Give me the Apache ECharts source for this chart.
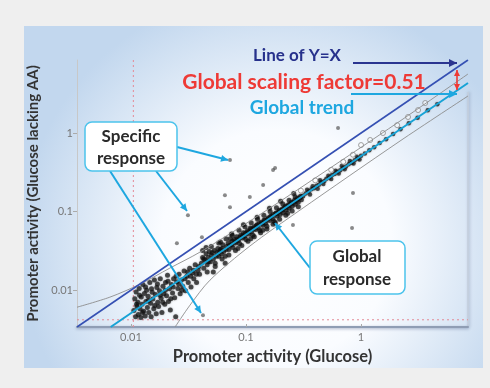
<!DOCTYPE html>
<html>
<head>
<meta charset="utf-8">
<script src="https://cdn.jsdelivr.net/npm/echarts@6/dist/echarts.min.js"></script>
<style>html,body{margin:0;padding:0;background:#efefef}#c{width:490px;height:388px}</style>
</head>
<body>
<div id="c"></div>
<script>
// ---- data ----
const axisMin = 0.0034, axisMax = 8.5;
const tickValues = [0.01, 0.1, 1];
const tickLabels = ['0.01', '0.1', '1'];

const lowCloud = [
[0.0106,0.0055],[0.0108,0.0078],[0.0110,0.0046],[0.0111,0.0095],[0.0113,0.0062],[0.0115,0.0070],
[0.0116,0.0049],[0.0118,0.0105],[0.0120,0.0058],[0.0122,0.0045],[0.0123,0.0082],[0.0125,0.0066],
[0.0127,0.0118],[0.0129,0.0054],[0.0131,0.0091],[0.0133,0.0047],[0.0135,0.0072],[0.0137,0.0100],
[0.0139,0.0060],[0.0141,0.0084],[0.0143,0.0052],[0.0146,0.0125],[0.0148,0.0068],[0.0150,0.0046],
[0.0153,0.0094],[0.0155,0.0077],[0.0158,0.0058],[0.0160,0.0135],[0.0163,0.0088],[0.0166,0.0050],
[0.0168,0.0108],[0.0171,0.0070],[0.0174,0.0062],[0.0177,0.0098],[0.0180,0.0140],[0.0183,0.0079],
[0.0186,0.0052],[0.0190,0.0112],[0.0193,0.0090],[0.0197,0.0066],[0.0200,0.0125],[0.0204,0.0085],
[0.0208,0.0155],[0.0212,0.0072],[0.0216,0.0104],[0.0220,0.0056],[0.0225,0.0118],[0.0230,0.0092],
[0.0235,0.0140],[0.0240,0.0080],[0.0245,0.0046],[0.0250,0.0128],[0.0256,0.0105],[0.0262,0.0160],
[0.0268,0.0090],[0.0275,0.0135],[0.0282,0.0112],[0.0290,0.0175],[0.0298,0.0098],[0.0306,0.0150],
[0.0315,0.0125],[0.0324,0.0190],[0.0333,0.0110],[0.0342,0.0165],[0.0352,0.0140],[0.0362,0.0210],
[0.0372,0.0125],[0.0383,0.0180],[0.0395,0.0160],
[0.0112,0.0066],[0.0119,0.0086],[0.0126,0.0052],[0.0134,0.0110],[0.0142,0.0074],[0.0151,0.0104],
[0.0161,0.0064],[0.0170,0.0120],[0.0179,0.0086],[0.0189,0.0070],[0.0199,0.0100],[0.0210,0.0130],
[0.0222,0.0078],[0.0233,0.0110],[0.0247,0.0150],[0.0260,0.0120],[0.0277,0.0100],[0.0295,0.0140],
[0.0312,0.0170],[0.0330,0.0150],[0.0350,0.0180],[0.0370,0.0160],[0.0390,0.0200]
];
const midBand = [
[0.041,0.022],[0.042,0.026],[0.043,0.019],[0.044,0.024],[0.045,0.029],[0.046,0.021],[0.047,0.026],
[0.048,0.031],[0.049,0.023],[0.050,0.028],[0.052,0.025],[0.053,0.032],[0.054,0.022],[0.056,0.030],
[0.057,0.034],[0.058,0.027],[0.060,0.033],[0.061,0.029],[0.063,0.038],[0.064,0.031],[0.066,0.027],
[0.068,0.036],[0.070,0.040],[0.071,0.033],[0.073,0.045],[0.075,0.038],[0.077,0.035],[0.079,0.044],
[0.081,0.040],[0.083,0.048],[0.086,0.043],[0.088,0.039],[0.090,0.050],[0.093,0.046],[0.095,0.054],
[0.098,0.049],[0.100,0.044],[0.103,0.057],[0.106,0.052],[0.109,0.062],[0.112,0.056],[0.115,0.050],
[0.118,0.064],[0.121,0.059],[0.125,0.068],[0.128,0.062],[0.132,0.057],[0.136,0.073],[0.140,0.067],
[0.144,0.078],[0.148,0.071],[0.152,0.065],[0.156,0.083],[0.161,0.077],[0.166,0.088],[0.171,0.081],
[0.176,0.075],[0.181,0.094],[0.186,0.088],[0.192,0.099],[0.198,0.092],[0.204,0.104],[0.210,0.097],
[0.216,0.112],[0.223,0.105],[0.230,0.118],[0.237,0.110],[0.244,0.125],[0.252,0.117],[0.260,0.132],
[0.268,0.124],[0.276,0.140],[0.285,0.133],[0.294,0.150],[0.303,0.142],[0.312,0.158],
[0.045,0.035],[0.052,0.017],[0.060,0.041],[0.066,0.022],[0.075,0.052],[0.085,0.034],[0.095,0.068],
[0.110,0.045],[0.125,0.085],[0.140,0.058],[0.160,0.110],[0.180,0.072],[0.200,0.135],[0.230,0.095],
[0.260,0.170],
[0.043,0.025],[0.047,0.023],[0.051,0.030],[0.055,0.027],[0.059,0.031],[0.062,0.034],[0.067,0.033],
[0.072,0.037],[0.076,0.042],[0.080,0.041],[0.084,0.044],[0.089,0.047],[0.094,0.049],[0.099,0.053],
[0.105,0.055],[0.111,0.060],[0.117,0.061],[0.123,0.066],[0.130,0.070],[0.138,0.071],[0.146,0.077],
[0.154,0.080],[0.163,0.086],[0.173,0.092],[0.183,0.096],[0.195,0.104],[0.207,0.108],[0.220,0.117],
[0.234,0.122],[0.248,0.131],[0.264,0.140],[0.280,0.147],[0.298,0.157],
[0.042,0.032],[0.046,0.017],[0.050,0.036],[0.054,0.020],[0.058,0.040],[0.062,0.025],[0.067,0.045],
[0.071,0.028],[0.076,0.050],[0.081,0.032],[0.087,0.058],[0.092,0.037],[0.098,0.064],[0.104,0.042],
[0.111,0.072],[0.118,0.048],[0.126,0.080],[0.134,0.054],[0.143,0.090],[0.152,0.060],[0.162,0.100],
[0.172,0.069],[0.184,0.112],[0.196,0.080],[0.209,0.125],[0.222,0.090],[0.237,0.140],[0.252,0.102],
[0.268,0.155],[0.285,0.115]
];
const highBand = [
[0.33,0.170],[0.35,0.180],[0.37,0.193],[0.39,0.198],[0.41,0.214],[0.43,0.220],[0.45,0.236],
[0.48,0.245],[0.50,0.262],[0.53,0.272],[0.56,0.292],[0.59,0.300],[0.62,0.322],[0.66,0.335],
[0.70,0.362],[0.74,0.375],[0.78,0.402],[0.83,0.420],[0.88,0.452],[0.94,0.475],[1.00,0.515],
[1.08,0.548],[1.18,0.605],[1.30,0.660],[1.45,0.745],[1.65,0.835],[1.90,0.975],[2.2,1.12],
[2.6,1.33],[3.1,1.57],[3.8,1.95],[4.6,2.33],
[0.34,0.19],[0.36,0.165],[0.38,0.21],[0.42,0.195],[0.44,0.25],[0.47,0.225],[0.52,0.285],
[0.55,0.26],[0.60,0.33],[0.64,0.305],[0.68,0.38],[0.72,0.345],[0.80,0.44],[0.86,0.41],
[0.92,0.50],[0.97,0.46]
];
const outliers = [
[0.0726,0.453],[0.0313,0.0902],[0.0423,0.0048],[0.631,1.16],[0.179,0.358],[0.0656,0.162],
[0.108,0.153],[0.0726,0.114],[0.0251,0.0397],[0.256,0.0673],[0.851,0.172],[0.835,0.0617],
[0.0414,0.0473],[0.172,0.338],[0.141,0.218]
];
const openPoints = [
[2.56,1.60],[3.13,1.96],[1.0,0.703],[1.55,1.0],[1.20,0.815],[2.06,1.26],[3.61,2.41],
[0.30,0.185],[0.40,0.25],[0.55,0.34],[0.70,0.43],[0.85,0.53]
];
const lineYX = [[0.0034,0.0034],[8.5,8.5]];
const globalTrend = [[0.00667,0.0034],[8.5,4.335]];
const upperBound = [[0.0034,0.00607],[0.00656,0.00815],[0.01197,0.0119],[0.0218,0.0191],[0.0398,0.0305],[0.108,0.0757],[0.295,0.199],[2.18,1.42],[8.5,5.64]];
const lowerBound = [[0.0242,0.0034],[0.0326,0.00644],[0.0486,0.0134],[0.108,0.0364],[0.295,0.1045],[2.18,0.791],[8.5,2.96]];
const refVertical = [[0.0105,0.0034],[0.0105,8.5]];
const refHorizontal = [[0.0034,0.0042],[8.5,0.0042]];

// ---- chart ----
const chart = echarts.init(document.getElementById('c'), null, {renderer:'canvas'});
const FONT = 'Lato, "Open Sans", sans-serif';

function labelFmt(v){
  const i = tickValues.findIndex(t => Math.abs(Math.log10(v) - Math.log10(t)) < 0.01);
  return i >= 0 ? tickLabels[i] : '';
}
function arrow(x1,y1,x2,y2,color,w,head,both){
  const els = [];
  els.push({type:'line', z:100, shape:{x1,y1,x2,y2}, style:{stroke:color, lineWidth:w}});
  const mk = (ax,ay,bx,by) => {
    const dx = bx-ax, dy = by-ay, L = Math.hypot(dx,dy), ux = dx/L, uy = dy/L;
    const hl = head, hw = head*0.5;
    return {type:'polygon', z:101, shape:{points:[[bx,by],[bx-ux*hl-uy*hw, by-uy*hl+ux*hw],[bx-ux*hl+uy*hw, by-uy*hl-ux*hw]]}, style:{fill:color}};
  };
  els.push(mk(x1,y1,x2,y2));
  if (both) els.push(mk(x2,y2,x1,y1));
  return els;
}
function txt(t,x,y,color,size,weight){
  return {type:'text', z:110, style:{text:t, x, y, fill:color, font:(weight||'bold')+' '+size+'px '+FONT,
    textAlign:'center', textVerticalAlign:'middle', align:'center', verticalAlign:'middle'}};
}

const cyan = '#1ea7e0';
const graphics = [
  {type:'rect', z:-10, shape:{x:24,y:26,width:459,height:342},
   style:{fill:{type:'radial', x:0.55, y:0.64, r:0.75, colorStops:[{offset:0,color:'#ffffff'},{offset:0.45,color:'#fafcff'},{offset:1,color:'#c2d7ee'}]}}},
  {type:'line', z:-5, shape:{x1:468,y1:92,x2:468,y2:327}, style:{stroke:'#c3cedd', lineWidth:1.5, shadowBlur:3, shadowColor:'rgba(60,80,120,0.35)', shadowOffsetX:1}},
  ...arrow(353,63,457,63,'#2a3590',2,8),
  ...arrow(457,70,457,90,'#ee3a36',1.6,6,true),
  ...arrow(351,94,457,94,cyan,2,8),
  txt('Line of Y=X', 297, 56, '#27318c', 17),
  txt('Global scaling factor=0.51', 304, 82, '#ee3a36', 21),
  txt('Global trend', 302, 108, cyan, 19),
  ...arrow(177,147,228,160,cyan,2,7),
  ...arrow(156,171,187,211,cyan,2,7),
  ...arrow(110,171,201,313,cyan,2,7),
  ...arrow(310,268,275,223,cyan,2,7),
  {type:'rect', z:103, shape:{x:85,y:122,width:92,height:49,r:7}, style:{fill:'#ffffff', stroke:'#4cc3ec', lineWidth:1.5}},
  txt('Specific', 131, 137, '#2a2a2a', 17),
  txt('response', 131, 159, '#2a2a2a', 17),
  {type:'rect', z:103, shape:{x:310,y:241,width:95,height:53,r:7}, style:{fill:'#ffffff', stroke:'#4cc3ec', lineWidth:1.5}},
  txt('Global', 357, 257, '#2a2a2a', 17),
  txt('response', 357, 280, '#2a2a2a', 17)
];

const lineBase = {type:'line', symbol:'none', silent:true, animation:false};
const dot = {color:'rgba(15,15,15,0.85)', shadowBlur:2, shadowColor:'rgba(0,0,0,0.45)'};
chart.setOption({
  backgroundColor:'#efefef',
  animation:false,
  grid:{left:77, top:60, right:22, bottom:61},
  xAxis:{type:'log', logBase:10, min:axisMin, max:axisMax,
    name:'Promoter activity (Glucose)', nameLocation:'middle', nameGap:17,
    nameTextStyle:{fontFamily:FONT, fontWeight:'bold', fontSize:16.5, color:'#333'},
    axisLine:{show:true, lineStyle:{color:'#8f9db4', width:2, shadowBlur:3, shadowColor:'rgba(40,60,110,0.4)', shadowOffsetY:1}},
    axisTick:{show:true, length:3, inside:true, customValues:tickValues, lineStyle:{color:'#aaa'}},
    axisLabel:{customValues:tickValues, formatter:labelFmt, color:'#777', fontSize:11, fontFamily:FONT, margin:5},
    minorTick:{show:false}, splitLine:{show:false}},
  yAxis:{type:'log', logBase:10, min:axisMin, max:axisMax,
    name:'Promoter activity (Glucose lacking AA)', nameLocation:'middle', nameGap:27,
    nameTextStyle:{fontFamily:FONT, fontWeight:'bold', fontSize:15, color:'#333'},
    axisLine:{show:true, lineStyle:{color:'#c8c8c8', width:1}},
    axisTick:{show:true, length:4, customValues:tickValues, lineStyle:{color:'#aaa'}},
    axisLabel:{customValues:tickValues, formatter:labelFmt, color:'#777', fontSize:11, fontFamily:FONT, margin:4},
    minorTick:{show:false}, splitLine:{show:false}},
  graphic:graphics,
  series:[
    Object.assign({}, lineBase, {data:refVertical, z:1, lineStyle:{color:'#e48995', width:1, type:[2,3]}}),
    Object.assign({}, lineBase, {data:refHorizontal, z:1, lineStyle:{color:'#e48995', width:1, type:[2,3]}}),
    {type:'scatter', data:lowCloud, z:2, symbolSize:5, animation:false, itemStyle:dot},
    {type:'scatter', data:midBand, z:2, symbolSize:5, animation:false, itemStyle:dot},
    {type:'scatter', data:highBand, z:2, symbolSize:4.5, animation:false, itemStyle:dot},
    {type:'scatter', data:outliers, z:2, symbolSize:4, animation:false, itemStyle:{color:'rgba(60,60,60,0.75)'}},
    {type:'scatter', data:openPoints, z:2, symbolSize:5, animation:false, itemStyle:{color:'rgba(255,255,255,0.6)', borderColor:'#8a8a8a', borderWidth:1}},
    Object.assign({}, lineBase, {data:upperBound, z:3, smooth:0.3, lineStyle:{color:'#8c8c8c', width:0.9}}),
    Object.assign({}, lineBase, {data:lowerBound, z:3, smooth:0.3, lineStyle:{color:'#8c8c8c', width:0.9}}),
    Object.assign({}, lineBase, {data:lineYX, z:4, lineStyle:{color:'#3550b3', width:1.6}}),
    Object.assign({}, lineBase, {data:globalTrend, z:4, lineStyle:{color:'#17a3d6', width:2}})
  ]
});
</script>
</body>
</html>
